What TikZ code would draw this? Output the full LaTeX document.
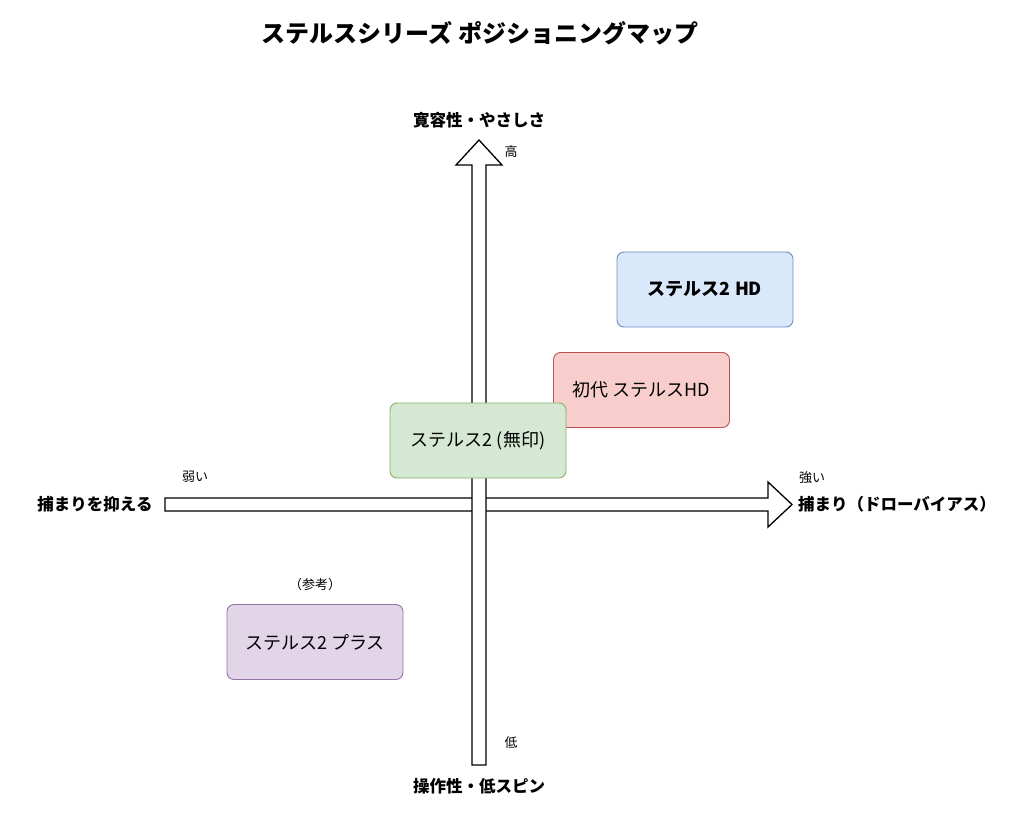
\documentclass[tikz,border=0pt]{standalone}
\usepackage{fontspec}
\setmainfont{Noto Sans CJK JP}
\begin{document}
\begin{tikzpicture}[x=1pt,y=-1pt,
  box/.style={draw=#1,rounded corners=7pt,line width=0.9pt,minimum width=176pt,minimum height=75pt,font=\fontsize{18}{20}\selectfont},
  axl/.style={font=\fontsize{16.5}{18}\selectfont\bfseries},
  sm/.style={font=\fontsize{13}{15}\selectfont},
  arr/.style={draw=black,fill=white,line width=1.3pt,line join=miter}]
\useasboundingbox (0,0) rectangle (1024,818);
\definecolor{bF}{HTML}{DAE8FC}\definecolor{bD}{HTML}{6C8EBF}
\definecolor{rF}{HTML}{F8CECC}\definecolor{rD}{HTML}{B85450}
\definecolor{gF}{HTML}{D5E8D4}\definecolor{gD}{HTML}{82B366}
\definecolor{pF}{HTML}{E1D5E7}\definecolor{pD}{HTML}{9673A6}
\node[font=\fontsize{24}{26}\selectfont\bfseries] (title) at (480,33) {ステルスシリーズ ポジショニングマップ};
% horizontal arrow
\draw[arr] (165,498) -- (768,498) -- (768,482) -- (792,504.5) -- (768,527) -- (768,511) -- (165,511) -- cycle;
% vertical arrow
\draw[arr] (472,765) -- (472,165) -- (456,165) -- (479,140) -- (502,165) -- (486,165) -- (486,765) -- cycle;
\node[axl] (top) at (479,120) {寛容性・やさしさ};
\node[axl] (bot) at (479,786) {操作性・低スピン};
\node[axl] (left) at (95,504) {捕まりを抑える};
\node[axl] (right) at (897,504) {捕まり（ドローバイアス）};
\node[sm] (hi) at (511,152) {高};
\node[sm] (lo) at (511,743) {低};
\node[sm] (weak) at (195,477) {弱い};
\node[sm] (strong) at (812,478) {強い};
\node[sm] (ref) at (315,585) {（参考）};
\node[box=bD,fill=bF,font=\fontsize{18}{20}\selectfont\bfseries] (b1) at (705,289.5) {ステルス2 HD};
\node[box=rD,fill=rF] (b2) at (641.5,390) {初代 ステルスHD};
\node[box=gD,fill=gF] (b3) at (478,440.5) {ステルス2 (無印)};
\node[box=pD,fill=pF] (b4) at (315,642) {ステルス2 プラス};
\end{tikzpicture}
\end{document}
